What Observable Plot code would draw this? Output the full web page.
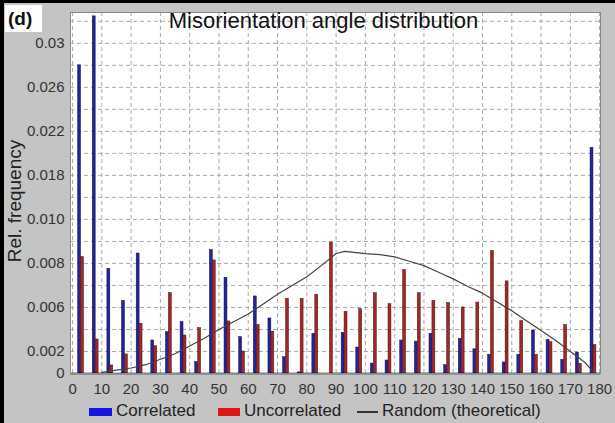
<!DOCTYPE html>
<html><head><meta charset="utf-8">
<script src="https://cdn.jsdelivr.net/npm/d3@7"></script>
<script src="https://cdn.jsdelivr.net/npm/@observablehq/plot@0.6"></script>
<style>
html,body{margin:0;padding:0;background:#c4c4c4;}
#wrap{position:relative;width:615px;height:423px;background:#c4c4c4;overflow:hidden;font-family:"Liberation Sans",Arial,sans-serif;}
#wrap::after{content:"";position:absolute;left:0;top:0;right:0;bottom:0;box-shadow:inset 4px 3px 0 #000;pointer-events:none;}
#chart svg{display:block;overflow:visible;}
#tag{position:absolute;left:5px;top:5px;width:34px;height:27px;background:#fff;font-weight:bold;font-size:19px;line-height:27px;padding-left:3px;color:#111;}
#legend{position:absolute;left:0;top:397px;width:615px;height:26px;font-size:17px;color:#222;}
#legend span{position:absolute;}
.sw{height:8px;top:11px;}
.tx{top:4px;line-height:20px;}
</style>
</head><body>
<div id="wrap">
  <div id="chart"></div>
  <div id="tag">(d)</div>
  <div id="legend"></div>
</div>
<script>
// Bins of 5 degrees (bin start angles)
const binStarts = [0,5,10,15,20,25,30,35,40,45,50,55,60,65,70,75,80,85,90,95,100,105,110,115,120,125,130,135,140,145,150,155,160,165,170,175];
const correlated = [0.0280,0.03245,0.0095,0.0066,0.0109,0.0030,0.00375,0.00466,0.00103,0.0112,
  0.0087,0.0033,0.0070,0.0050,0.00148,0.0001,0.0036,0.0,0.0037,0.00236,
  0.0009,0.00118,0.0030,0.0029,0.0036,0.00075,0.00315,0.0022,0.0017,0.001,
  0.0017,0.0039,0.00306,0.00125,0.0019,0.0205];
const uncorrelated = [0.01057,0.00309,0.00073,0.00173,0.00452,0.00248,0.0073,0.00345,0.00412,0.01027,
  0.00473,0.0020,0.00442,0.0038,0.00679,0.00679,0.00716,0.0119,0.0056,0.00585,
  0.0073,0.0063,0.0094,0.0073,0.0066,0.0064,0.006,0.00645,0.01115,0.00837,
  0.00476,0.0017,0.00285,0.0044,0.00088,0.00258];
// Random (theoretical) curve
const randomAngles = [10,15,20,25,30,35,40,45,50,55,60,65,70,75,80,85,90,93,100,105,110,115,120,125,130,135,140,145,150,155,160,165,170,175,178];
const randomValues = [0.0001,0.0003,0.0005,0.0008,0.0013,0.0018,0.0025,0.0032,0.0040,0.0047,0.0054,0.0063,0.0072,0.0080,0.0088,0.0098,0.0109,0.0111,0.0109,0.0108,0.0106,0.0102,0.0098,0.0092,0.0086,0.0079,0.0073,0.0065,0.0057,0.0048,0.0039,0.0030,0.0020,0.0010,0.0001];
// Axis ticks
const xTicks = [0,10,20,30,40,50,60,70,80,90,100,110,120,130,140,150,160,170,180];
const yTickValues = [0,0.002,0.006,0.010,0.014,0.018,0.022,0.026,0.030];
const yTickLabels = ["0","0.002","0.006","0.008","0.010","0.018","0.022","0.026","0.03"];
const seriesNames = ["Correlated","Uncorrelated","Random (theoretical)"];
const title = "Misorientation angle distribution";
const yLabel = "Rel. frequency";

const bins = binStarts.map((s,i)=>({c:s+2.5, corr:correlated[i], unc:uncorrelated[i]}));
const randomData = randomAngles.map((a,i)=>({a, v:randomValues[i]}));
const yGrid = d3.range(0, 0.0329, 0.002);

const chart = Plot.plot({
  width:615, height:400,
  marginLeft:70, marginRight:15, marginTop:12, marginBottom:27,
  style:{background:"transparent", fontFamily:"Liberation Sans, Arial, sans-serif", fontSize:"15px", color:"#333"},
  x:{domain:[-0.7,180.3], label:null},
  y:{domain:[0,0.0328], label:null},
  marks:[
    Plot.frame({fill:"white"}),
    Plot.gridX({ticks:xTicks, stroke:"#aaa", strokeOpacity:1, strokeDasharray:"4,3"}),
    Plot.gridY({ticks:yGrid, stroke:"#aaa", strokeOpacity:1, strokeDasharray:"4,3"}),
    Plot.rect(bins, {x1:d=>d.c-0.6, x2:d=>d.c+0.4, y1:0, y2:"corr", fill:"#24249a", stroke:"#12124a", strokeWidth:0.5}),
    Plot.rect(bins, {x1:d=>d.c+0.4, x2:d=>d.c+1.4, y1:0, y2:"unc", fill:"#a02828", stroke:"#4a1212", strokeWidth:0.5}),
    Plot.line(randomData, {x:"a", y:"v", stroke:"#444", strokeWidth:1.2}),
    Plot.ruleY([0], {stroke:"#000", strokeWidth:1.5}),
    Plot.frame({stroke:"#888"}),
    Plot.axisX({ticks:xTicks, tickSize:0, tickPadding:10, fontSize:15}),
    Plot.axisY({ticks:yTickValues, tickFormat:d=>yTickLabels[yTickValues.indexOf(d)], tickSize:0, tickPadding:6, fontSize:15}),
    Plot.text([title], {frameAnchor:"top", dx:-12, fontSize:22, fill:"#111"}),
    Plot.text([yLabel], {frameAnchor:"left", textAnchor:"middle", rotate:-90, dx:-56, dy:8, fontSize:19, fill:"#222"})
  ]
});
document.getElementById("chart").appendChild(chart);

const lg = document.getElementById("legend");
const items = [
  {type:"sw", color:"#1515e6", left:89, w:23, tl:116, text:seriesNames[0]},
  {type:"sw", color:"#e01515", left:218, w:22, tl:244, text:seriesNames[1]},
  {type:"line", color:"#333", left:357, w:21, tl:382, text:seriesNames[2]}
];
items.forEach(it=>{
  const s=document.createElement("span");
  if(it.type==="sw"){ s.className="sw"; s.style.background=it.color; s.style.left=it.left+"px"; s.style.width=it.w+"px"; }
  else { s.style.left=it.left+"px"; s.style.width=it.w+"px"; s.style.top="14px"; s.style.height="1.5px"; s.style.background=it.color; }
  lg.appendChild(s);
  const t=document.createElement("span");
  t.className="tx"; t.style.left=it.tl+"px"; t.textContent=it.text;
  lg.appendChild(t);
});
</script>
</body></html>
